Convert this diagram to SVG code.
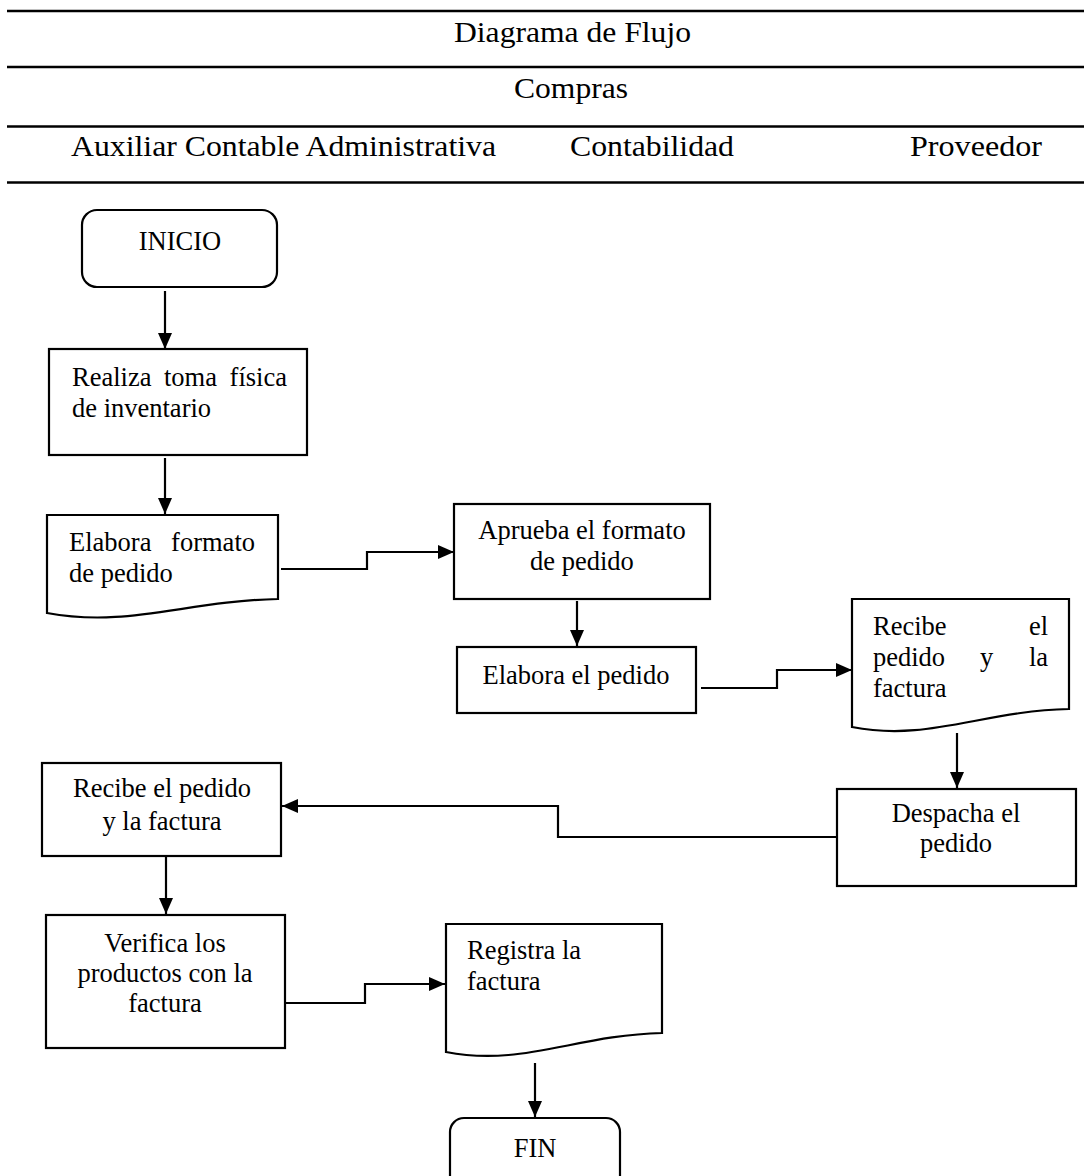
<svg xmlns="http://www.w3.org/2000/svg" width="1084" height="1176" viewBox="0 0 1084 1176">
  <style>
    .hdr { font-family: "Liberation Serif", "Times New Roman", serif; font-size: 30px; fill: #000; }
    .txt { font-family: "Liberation Serif", "Times New Roman", serif; font-size: 26.5px; fill: #000; }
    .mid { text-anchor: middle; }
    .end { text-anchor: end; }
    .rule { stroke: #000; stroke-width: 2.5; }
    .shape { fill: #fff; stroke: #000; stroke-width: 2.2; }
    .conn { fill: none; stroke: #000; stroke-width: 2.2; marker-end: url(#arrow); }
  </style>
  <defs>
    <marker id="arrow" markerUnits="userSpaceOnUse" markerWidth="16" markerHeight="14" refX="16" refY="7" orient="auto">
      <path d="M0,0 L16,7 L0,14 Z" fill="#000"/>
    </marker>
  </defs>

  <rect width="1084" height="1176" fill="#fff"/>

  <!-- header table -->
  <g id="header">
    <line class="rule" x1="7" y1="11" x2="1084" y2="11"/>
    <line class="rule" x1="7" y1="67" x2="1084" y2="67"/>
    <line class="rule" x1="7" y1="126.5" x2="1084" y2="126.5"/>
    <line class="rule" x1="7" y1="182.5" x2="1084" y2="182.5"/>
    <text class="hdr" x="454" y="42" textLength="237" lengthAdjust="spacingAndGlyphs">Diagrama de Flujo</text>
    <text class="hdr" x="514" y="98" textLength="114" lengthAdjust="spacingAndGlyphs">Compras</text>
    <text class="hdr" x="71" y="156" textLength="425" lengthAdjust="spacingAndGlyphs">Auxiliar Contable Administrativa</text>
    <text class="hdr" x="570" y="156" textLength="164" lengthAdjust="spacingAndGlyphs">Contabilidad</text>
    <text class="hdr" x="910" y="156" textLength="132" lengthAdjust="spacingAndGlyphs">Proveedor</text>
  </g>

  <!-- connectors -->
  <g id="connectors">
    <path class="conn" d="M165,291 L165,349"/>
    <path class="conn" d="M165,458 L165,514"/>
    <path class="conn" d="M281,569 H367 V552 H454"/>
    <path class="conn" d="M577,601 L577,646"/>
    <path class="conn" d="M701,688 H777 V670 H852"/>
    <path class="conn" d="M957,733 L957,788"/>
    <path class="conn" d="M837,837 H558 V806 H282"/>
    <path class="conn" d="M166,857 L166,914"/>
    <path class="conn" d="M286,1003 H365 V984 H445"/>
    <path class="conn" d="M535,1063 L535,1117"/>
  </g>

  <!-- nodes -->
  <g id="inicio">
    <rect class="shape" x="82" y="210" width="195" height="77" rx="15"/>
    <text class="txt mid" x="180" y="250">INICIO</text>
  </g>

  <g id="toma-fisica">
    <rect class="shape" x="49" y="349" width="258" height="106"/>
    <text class="txt" y="386"><tspan x="72">Realiza</tspan><tspan x="164">toma</tspan><tspan x="287" text-anchor="end">física</tspan></text>
    <text class="txt" x="72" y="417">de inventario</text>
  </g>

  <g id="formato-pedido">
    <path class="shape" d="M47,515 L278,515 L278,599 C186,601 128,628 47,613 Z"/>
    <text class="txt" y="551"><tspan x="69">Elabora</tspan><tspan x="255" text-anchor="end">formato</tspan></text>
    <text class="txt" x="69" y="582">de pedido</text>
  </g>

  <g id="aprueba-formato">
    <rect class="shape" x="454" y="504" width="256" height="95"/>
    <text class="txt mid" x="582" y="539">Aprueba el formato</text>
    <text class="txt mid" x="582" y="570">de pedido</text>
  </g>

  <g id="elabora-pedido">
    <rect class="shape" x="457" y="647" width="239" height="66"/>
    <text class="txt mid" x="576" y="684">Elabora el pedido</text>
  </g>

  <g id="proveedor-recibe">
    <path class="shape" d="M852,599 L1069,599 L1069,709 C982,711 928,742 852,727 Z"/>
    <text class="txt" y="635"><tspan x="873">Recibe</tspan><tspan x="1048" text-anchor="end">el</tspan></text>
    <text class="txt" y="666"><tspan x="873">pedido</tspan><tspan x="980">y</tspan><tspan x="1048" text-anchor="end">la</tspan></text>
    <text class="txt" x="873" y="697">factura</text>
  </g>

  <g id="despacha">
    <rect class="shape" x="837" y="789" width="239" height="97"/>
    <text class="txt mid" x="956" y="822">Despacha el</text>
    <text class="txt mid" x="956" y="852">pedido</text>
  </g>

  <g id="recibe-pedido">
    <rect class="shape" x="42" y="763" width="239" height="93"/>
    <text class="txt mid" x="162" y="797">Recibe el pedido</text>
    <text class="txt mid" x="162" y="830">y la factura</text>
  </g>

  <g id="verifica">
    <rect class="shape" x="46" y="915" width="239" height="133"/>
    <text class="txt mid" x="165" y="952">Verifica los</text>
    <text class="txt mid" x="165" y="982">productos con la</text>
    <text class="txt mid" x="165" y="1012">factura</text>
  </g>

  <g id="registra">
    <path class="shape" d="M446,924 L662,924 L662,1033 C576,1035 522,1067 446,1052 Z"/>
    <text class="txt" x="467" y="959">Registra la</text>
    <text class="txt" x="467" y="990">factura</text>
  </g>

  <g id="fin">
    <rect class="shape" x="450" y="1118" width="170" height="80" rx="14"/>
    <text class="txt mid" x="535" y="1157">FIN</text>
  </g>
</svg>
